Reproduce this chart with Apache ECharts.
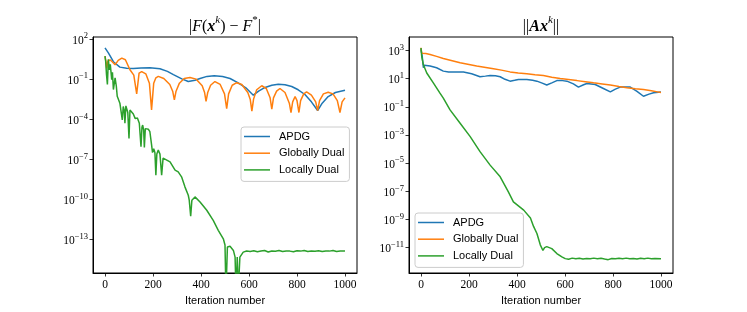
<!DOCTYPE html>
<html><head><meta charset="utf-8">
<script src="https://cdn.jsdelivr.net/npm/echarts@6/dist/echarts.min.js"></script>
<style>html,body{margin:0;padding:0;background:#fff}#c{width:747px;height:312px}</style>
</head><body><div id="c"></div>
<script>
const xTicks = [0, 200, 400, 600, 800, 1000];
const leftYTicks = [1e-13, 1e-10, 1e-7, 1e-4, 1e-1, 1e2];
const rightYTicks = [1e-11, 1e-9, 1e-7, 1e-5, 1e-3, 1e-1, 1e1, 1e3];
const names = ['APDG', 'Globally Dual', 'Locally Dual'];
const colors = ['#1f77b4', '#ff7f0e', '#2ca02c'];

// Left panel |F(x^k) - F*|
const objApdg = [[0,2.2e1],[14,9.3e0],[35,2.0e0],[62,7.9e-1],[90,6.6e-1],[118,6.3e-1],[150,6.8e-1],[187,7.1e-1],[229,6.0e-1],[260,3.8e-1],[285,2.2e-1],[320,1.05e-1],[347,6.6e-2],[375,8.3e-2],[396,1.12e-1],[425,1.6e-1],[455,1.78e-1],[490,1.6e-1],[521,1.12e-1],[555,5.2e-2],[590,2.0e-2],[618,6.3e-3],[640,1.26e-2],[667,2.4e-2],[695,3.5e-2],[722,4.2e-2],[750,3.8e-2],[778,2.8e-2],[805,1.6e-2],[833,7.1e-3],[860,2.0e-3],[886,4.5e-4],[905,1.6e-3],[930,5.0e-3],[960,1.0e-2],[1000,1.48e-2]];
const objGlobal = [[0,5.2e0],[4,2.0e0],[7,6.3e-1],[12,2.2e0],[21,2.8e0],[30,2.0e0],[42,1.17e0],[55,2.5e0],[70,3.7e0],[85,2.8e0],[104,5.0e-1],[120,2.0e-1],[132,7.9e-3],[142,2.8e-1],[153,3.7e-1],[170,2.5e-1],[185,5.0e-2],[194,5.0e-4],[203,5.0e-2],[212,1.26e-1],[222,1.6e-1],[245,1.12e-1],[270,4.0e-2],[282,1.26e-2],[289,2.8e-3],[296,1.26e-2],[310,5.0e-2],[330,1.12e-1],[354,1.32e-1],[380,1.0e-1],[405,3.2e-2],[415,1.0e-2],[421,2.2e-3],[428,1.0e-2],[440,3.5e-2],[458,6.6e-2],[480,4.0e-2],[498,7.9e-3],[507,6.3e-4],[515,7.9e-3],[530,3.5e-2],[549,5.4e-2],[570,4.0e-2],[595,1.0e-2],[605,3.2e-3],[612,4.0e-4],[619,3.2e-3],[632,1.6e-2],[653,3.2e-2],[672,2.0e-2],[688,4.0e-3],[695,5.6e-4],[702,4.0e-3],[715,1.26e-2],[729,2.0e-2],[750,1.0e-2],[768,1.6e-3],[775,3.2e-4],[782,2.0e-3],[792,5.0e-3],[800,2.5e-3],[808,3.2e-4],[815,2.5e-3],[828,7.9e-3],[840,1.12e-2],[860,6.3e-3],[878,2.0e-3],[886,4.5e-4],[894,2.5e-3],[910,7.9e-3],[930,1.05e-2],[950,7.9e-3],[968,2.5e-3],[979,3.2e-4],[988,2.0e-3],[1000,4.0e-3]];
const objLocal = [[0,5.2e0],[3,2.0e0],[6,2.5e-1],[10,4.0e-2],[14,3.0e0],[18,5.0e-1],[22,1.26e0],[28,9.3e-2],[31,3.2e-1],[35,1.66e-2],[42,1.26e-1],[47,3.2e-2],[51,5.2e-3],[55,6.6e-3],[62,1.6e-3],[68,1.26e-3],[72,8.9e-5],[76,8.9e-4],[80,5.0e-4],[83,5.0e-5],[87,1.0e-3],[90,8.9e-4],[95,3.2e-4],[100,3.7e-6],[104,5.0e-4],[110,5.0e-4],[118,2.5e-4],[126,1.12e-4],[135,1.26e-4],[143,5.0e-5],[150,8.9e-7],[154,2.5e-5],[157,3.7e-5],[161,1.6e-5],[164,7.9e-7],[168,2.0e-5],[174,2.8e-5],[181,1.78e-5],[187,1.17e-5],[194,1.26e-6],[198,3.2e-7],[203,6.3e-7],[208,3.2e-7],[212,6.6e-9],[216,2.5e-7],[222,5.0e-7],[229,2.5e-7],[236,6.6e-9],[242,1.26e-7],[250,1.58e-7],[271,6.6e-8],[292,1.58e-8],[305,1.17e-8],[319,5.0e-9],[333,8.9e-10],[347,2.1e-10],[351,8.9e-11],[357,5.6e-12],[362,8.9e-11],[375,1.58e-10],[396,6.6e-11],[424,1.58e-11],[451,2.8e-12],[472,5.0e-13],[493,1.17e-13],[500,4.0e-14],[504,1e-17],[510,2.8e-14],[521,3.2e-14],[535,1.58e-14],[542,5.0e-15],[546,1e-17],[551,5.0e-15],[555,1e-17],[562,5.0e-15],[576,1.17e-14],[590,1.41e-14],[605,1.32e-14],[620,1.5e-14],[635,1.26e-14],[650,1.41e-14],[665,1.55e-14],[680,1.2e-14],[695,1.45e-14],[710,1.35e-14],[725,1.55e-14],[740,1.3e-14],[755,1.45e-14],[770,1.4e-14],[785,1.25e-14],[800,1.5e-14],[815,1.4e-14],[830,1.55e-14],[845,1.3e-14],[860,1.45e-14],[875,1.35e-14],[890,1.5e-14],[905,1.3e-14],[920,1.45e-14],[935,1.4e-14],[950,1.55e-14],[965,1.3e-14],[980,1.45e-14],[1000,1.4e-14]];

// Right panel ||Ax^k||
const resApdg = [[0,1.26e3],[5,4.0e2],[10,5.9e1],[14,8.9e1],[20,8.3e1],[38,7.8e1],[65,5.9e1],[93,3.4e1],[115,2.9e1],[135,2.9e1],[177,2.9e1],[211,2.2e1],[246,1.35e1],[268,1.5e1],[288,1.66e1],[310,1.58e1],[330,1.35e1],[350,8.9e0],[371,6.6e0],[390,7.6e0],[406,8.7e0],[441,8.7e0],[465,7.6e0],[483,6.6e0],[505,4.8e0],[524,3.5e0],[545,5.0e0],[566,7.2e0],[590,7.2e0],[608,6.6e0],[635,4.2e0],[656,2.5e0],[675,3.5e0],[691,4.5e0],[726,3.8e0],[760,2.0e0],[789,1.15e0],[810,1.78e0],[830,2.5e0],[872,2.5e0],[900,1.26e0],[927,5.6e-1],[950,7.9e-1],[969,9.8e-1],[1000,1.1e0]];
const resGlobal = [[0,1.55e3],[3,6.3e2],[7,6.9e2],[20,6.0e2],[38,5.2e2],[65,3.8e2],[93,2.7e2],[130,1.86e2],[163,1.32e2],[200,1.0e2],[232,7.8e1],[270,6.2e1],[302,5.0e1],[335,4.0e1],[371,3.0e1],[405,2.5e1],[441,2.2e1],[475,1.9e1],[510,1.66e1],[545,1.26e1],[580,1.0e1],[615,8.5e0],[650,7.2e0],[685,6.0e0],[719,5.0e0],[755,4.2e0],[789,3.5e0],[825,2.75e0],[858,2.24e0],[893,1.9e0],[927,1.66e0],[960,1.38e0],[990,1.1e0],[1000,1.05e0]];
const resLocal = [[0,1.48e3],[3,3.7e2],[10,9.5e1],[24,2.5e1],[52,4.8e0],[79,9.3e-1],[93,4.1e-1],[121,6.0e-2],[163,6.8e-3],[205,7.6e-4],[246,6.5e-5],[288,7.2e-6],[330,1.07e-6],[364,9.1e-8],[385,1.78e-8],[393,1.38e-8],[428,4.6e-9],[456,1.26e-9],[469,3.2e-10],[483,1.0e-10],[497,1.58e-11],[508,6.3e-12],[515,1.0e-11],[524,1.17e-11],[545,8.5e-12],[566,3.8e-12],[587,2.2e-12],[601,1.66e-12],[615,1.5e-12],[630,1.8e-12],[645,1.6e-12],[660,1.75e-12],[675,1.55e-12],[690,1.7e-12],[705,1.6e-12],[720,1.8e-12],[735,1.65e-12],[750,1.75e-12],[765,1.55e-12],[780,1.4e-12],[795,1.7e-12],[810,1.6e-12],[825,1.75e-12],[840,1.65e-12],[855,1.8e-12],[870,1.6e-12],[885,1.7e-12],[900,1.55e-12],[915,1.75e-12],[930,1.65e-12],[945,1.8e-12],[960,1.6e-12],[975,1.7e-12],[1000,1.65e-12]];

const SERIF = 'Liberation Serif';
const SANS = 'Liberation Sans';

function powLabel(v) {
  const e = Math.round(Math.log10(v));
  return '{b|10}{s|' + (e < 0 ? '\u2212' : '') + Math.abs(e) + '}';
}
const powRich = {
  b: { fontFamily: SERIF, fontSize: 11.5, color: '#000', lineHeight: 15, verticalAlign: 'bottom' },
  s: { fontFamily: SERIF, fontSize: 8.5, color: '#000', lineHeight: 8, verticalAlign: 'top' }
};

function xAxisCfg(gi) {
  return {
    type: 'value', gridIndex: gi, min: -50, max: 1050,
    name: 'Iteration number', nameLocation: 'middle', nameGap: 17,
    nameTextStyle: { fontFamily: SANS, fontSize: 11, color: '#000' },
    axisLine: { show: true, onZero: false, lineStyle: { color: '#000', width: 1 } },
    axisTick: { show: true, customValues: xTicks, length: 3.5, lineStyle: { color: '#000', width: 0.8 } },
    axisLabel: { customValues: xTicks, formatter: v => String(v), fontFamily: SERIF, fontSize: 11.5, color: '#000', margin: 6 },
    splitLine: { show: false }
  };
}
function yAxisCfg(gi, min, max, ticks) {
  return {
    type: 'log', logBase: 10, gridIndex: gi, min: min, max: max,
    axisLine: { show: true, onZero: false, lineStyle: { color: '#000', width: 1 } },
    axisTick: { show: true, customValues: ticks, length: 3.5, lineStyle: { color: '#000', width: 0.8 } },
    axisLabel: { customValues: ticks, formatter: powLabel, rich: powRich, margin: 5 },
    minorTick: { show: false },
    splitLine: { show: false }
  };
}
function lineSeries(name, data, ci, gi) {
  return {
    type: 'line', name: name, data: data, xAxisIndex: gi, yAxisIndex: gi,
    showSymbol: false, symbol: 'none', clip: true,
    lineStyle: { color: colors[ci], width: 1.5 }, itemStyle: { color: colors[ci] }
  };
}
const legendCommon = {
  data: names, orient: 'vertical', icon: 'rect', itemWidth: 26, itemHeight: 1.5, itemGap: 3.7,
  padding: [3, 5, 5, 3], borderColor: '#cccccc', borderWidth: 1, borderRadius: 3,
  backgroundColor: 'rgba(255,255,255,0.8)', selectedMode: false,
  textStyle: { fontFamily: SANS, fontSize: 11, color: '#000', lineHeight: 13, padding: [0, 0, 0, 4] }
};
const titleRich = {
  n: { fontFamily: SERIF, fontSize: 16, fontWeight: 'normal', color: '#000', lineHeight: 20, verticalAlign: 'bottom' },
  i: { fontFamily: SERIF, fontSize: 16, fontWeight: 'normal', fontStyle: 'italic', color: '#000', lineHeight: 20, verticalAlign: 'bottom' },
  bi: { fontFamily: SERIF, fontSize: 16, fontStyle: 'italic', fontWeight: 'bold', color: '#000', lineHeight: 20, verticalAlign: 'bottom' },
  s: { fontFamily: SERIF, fontSize: 11, fontWeight: 'normal', fontStyle: 'italic', color: '#000', verticalAlign: 'top', lineHeight: 11 },
  sn: { fontFamily: SERIF, fontSize: 11, fontWeight: 'normal', color: '#000', verticalAlign: 'top', lineHeight: 11 }
};

const chart = echarts.init(document.getElementById('c'), null, { renderer: 'canvas' });
chart.setOption({
  animation: false,
  backgroundColor: '#fff',
  color: colors,
  title: [
    { text: '{n||}{i|F}{n|(}{bi|x}{s|k}{n|) \u2212 }{i|F}{sn|*}{n||}', left: 225, top: 15, textAlign: 'center',
      padding: 0, textStyle: { fontWeight: 'normal', rich: titleRich } },
    { text: '{n|||}{bi|Ax}{s|k}{n|||}', left: 541, top: 15, textAlign: 'center',
      padding: 0, textStyle: { fontWeight: 'normal', rich: titleRich } }
  ],
  grid: [
    { left: 93, top: 37, width: 264, height: 236, show: true, borderColor: '#000', borderWidth: 1, backgroundColor: 'transparent' },
    { left: 409, top: 37, width: 264, height: 236, show: true, borderColor: '#000', borderWidth: 1, backgroundColor: 'transparent' }
  ],
  xAxis: [xAxisCfg(0), xAxisCfg(1)],
  yAxis: [
    yAxisCfg(0, 3.24e-16, 141, leftYTicks),
    yAxisCfg(1, 1.58e-13, 9.0e3, rightYTicks)
  ],
  legend: [
    Object.assign({}, legendCommon, { left: 241, top: 127 }),
    Object.assign({}, legendCommon, { left: 415, top: 213 })
  ],
  series: [
    lineSeries(names[0], objApdg, 0, 0),
    lineSeries(names[1], objGlobal, 1, 0),
    lineSeries(names[2], objLocal, 2, 0),
    lineSeries(names[0], resApdg, 0, 1),
    lineSeries(names[1], resGlobal, 1, 1),
    lineSeries(names[2], resLocal, 2, 1)
  ]
});
</script></body></html>
